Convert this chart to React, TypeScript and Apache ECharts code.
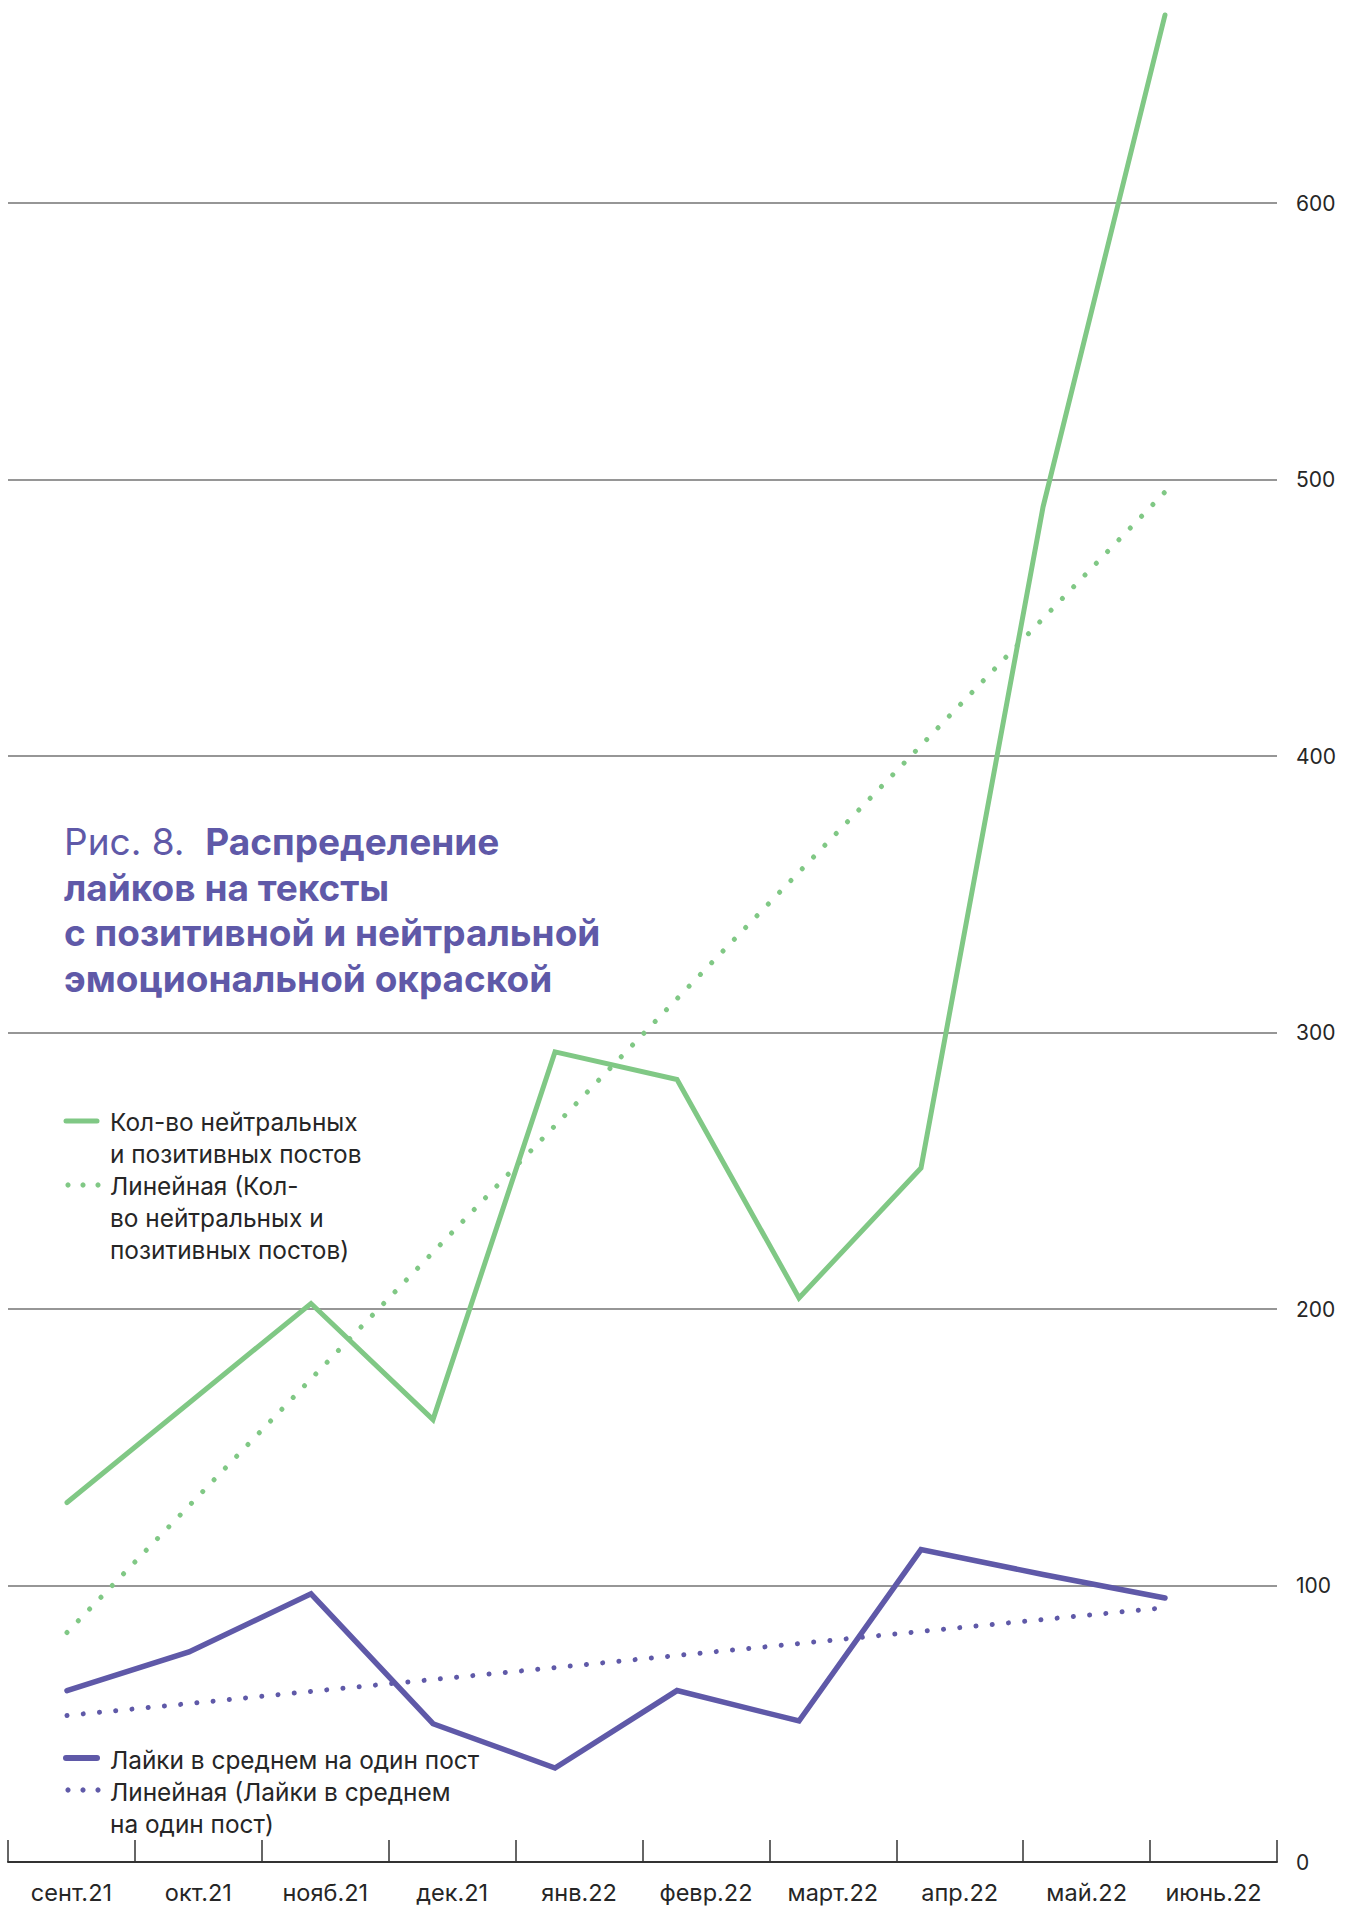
import React, { useEffect, useRef } from "react";
import * as echarts from "echarts";

const categories = ["сент.21", "окт.21", "нояб.21", "дек.21", "янв.22", "февр.22", "март.22", "апр.22", "май.22", "июнь.22"];
const postsCount = [130, 166, 202, 160, 293, 283, 204, 251, 490, 668];
const postsTrend = [83, 128.8, 174.7, 220.5, 266.3, 312.2, 358, 403.8, 449.7, 495.5];
const likesAvg = [62, 76, 97, 50, 34, 62, 51, 113, 104, 95.5];
const likesTrend = [53, 57.3, 61.7, 66, 70.3, 74.7, 79, 83.4, 87.7, 92];
const yMin = 0;
const yMax = 672;
const yInterval = 100;

const titleFirst = "Рис. 8.";
const titleBold = "Распределение";
const titleLines = ["лайков на тексты", "с позитивной и нейтральной", "эмоциональной окраской"];
const legendPosts = ["Кол-во нейтральных", "и позитивных постов"];
const legendPostsTrend = ["Линейная (Кол-", "во нейтральных и", "позитивных постов)"];
const legendLikes = ["Лайки в среднем на один пост"];
const legendLikesTrend = ["Линейная (Лайки в среднем", "на один пост)"];

const GREEN = "#80C885";
const PURPLE = "#5F59A8";
const TEXT = "#262626";
const FONT = "Inter, Roboto, sans-serif";

export default function App() {
  const ref = useRef<HTMLDivElement>(null);
  useEffect(() => {
    if (!ref.current) return;
    const chart = echarts.init(ref.current, null, { renderer: "svg" });
    const W = 1352;
    const zeroY = 1862;
    const pxPer100 = 276.5;
    const plotTop = zeroY - (yMax / 100) * pxPer100;
    const bottom = 1907 - zeroY;

    const graphic: any[] = [];
    const titleY = [841.5, 887, 932.5, 978];
    const titleFont = 37;
    graphic.push({
      type: "text",
      x: 64,
      y: titleY[0],
      style: {
        text: `{a|${titleFirst}  }{b|${titleBold}}`,
        textVerticalAlign: "middle",
        verticalAlign: "middle",
        rich: {
          a: { fontFamily: FONT, fontSize: titleFont, fontWeight: 400, fill: PURPLE, color: PURPLE },
          b: { fontFamily: FONT, fontSize: titleFont, fontWeight: 700, fill: PURPLE, color: PURPLE },
        },
      },
    });
    titleLines.forEach((t, i) => {
      graphic.push({
        type: "text",
        x: 64,
        y: titleY[i + 1],
        style: {
          text: t,
          fill: PURPLE,
          font: `700 ${titleFont}px ${FONT}`,
          textVerticalAlign: "middle",
          verticalAlign: "middle",
        },
      });
    });

    const addText = (lines: string[], ys: number[]) => {
      lines.forEach((t, i) => {
        graphic.push({
          type: "text",
          x: 110,
          y: ys[i],
          style: {
            text: t,
            fill: TEXT,
            font: `400 24.4px ${FONT}`,
            textVerticalAlign: "middle",
            verticalAlign: "middle",
          },
        });
      });
    };
    const addSolid = (y: number, color: string, w: number) => {
      graphic.push({
        type: "line",
        shape: { x1: 66, y1: y, x2: 97, y2: y },
        style: { stroke: color, lineWidth: w, lineCap: "round" },
      });
    };
    const addDots = (y: number, color: string) => {
      [68, 83, 98].forEach((x) => {
        graphic.push({ type: "circle", shape: { cx: x, cy: y, r: 2.6 }, style: { fill: color } });
      });
    };

    addSolid(1121, GREEN, 5);
    addText(legendPosts, [1122, 1154]);
    addDots(1185, GREEN);
    addText(legendPostsTrend, [1186, 1218, 1250]);

    addSolid(1758, PURPLE, 6);
    addText(legendLikes, [1760]);
    addDots(1790, PURPLE);
    addText(legendLikesTrend, [1792, 1824]);

    const dotted = [0.01, 16.3];

    chart.setOption({
      animation: false,
      grid: [
        { left: 8, right: W - 1277, top: plotTop, bottom },
        { left: 67, right: W - 1165, top: plotTop, bottom },
      ],
      xAxis: [
        {
          type: "category",
          gridIndex: 0,
          data: categories,
          boundaryGap: true,
          axisLine: { show: true, lineStyle: { color: "#333333", width: 2 } },
          axisTick: { show: true, inside: true, length: 22, lineStyle: { color: "#333333", width: 1.5 } },
          axisLabel: { color: TEXT, fontFamily: FONT, fontSize: 23.5, margin: 18 },
        },
        {
          type: "category",
          gridIndex: 1,
          data: categories,
          boundaryGap: false,
          show: false,
        },
      ],
      yAxis: [
        {
          type: "value",
          gridIndex: 0,
          position: "right",
          min: yMin,
          max: yMax,
          interval: yInterval,
          axisLine: { show: false },
          axisTick: { show: false },
          axisLabel: {
            color: TEXT,
            fontFamily: FONT,
            fontSize: 21,
            margin: 19,
            align: "left",
            showMaxLabel: false,
            formatter: (v: number) => (v % yInterval === 0 ? String(v) : ""),
          },
          splitLine: { show: true, showMaxLine: false, lineStyle: { color: "#737373", width: 1.5 } },
        },
        {
          type: "value",
          gridIndex: 1,
          min: yMin,
          max: yMax,
          interval: yInterval,
          show: false,
          splitLine: { show: false },
        },
      ],
      series: [
        {
          type: "line",
          name: "Лайки в среднем на один пост",
          xAxisIndex: 1,
          yAxisIndex: 1,
          data: likesAvg,
          symbol: "none",
          silent: true,
          clip: false,
          lineStyle: { color: PURPLE, width: 5.5, cap: "round", join: "miter" },
        },
        {
          type: "line",
          name: "Линейная (Лайки в среднем на один пост)",
          xAxisIndex: 1,
          yAxisIndex: 1,
          data: likesTrend,
          symbol: "none",
          silent: true,
          clip: false,
          lineStyle: { color: PURPLE, width: 5, type: dotted, cap: "round" },
        },
        {
          type: "line",
          name: "Кол-во нейтральных и позитивных постов",
          xAxisIndex: 1,
          yAxisIndex: 1,
          data: postsCount,
          symbol: "none",
          silent: true,
          clip: false,
          lineStyle: { color: GREEN, width: 5, cap: "round", join: "miter" },
        },
        {
          type: "line",
          name: "Линейная (Кол-во нейтральных и позитивных постов)",
          xAxisIndex: 1,
          yAxisIndex: 1,
          data: postsTrend,
          symbol: "none",
          silent: true,
          clip: false,
          lineStyle: { color: GREEN, width: 5, type: dotted, cap: "round" },
        },
      ],
      graphic,
    });
    return () => chart.dispose();
  }, []);
  return (
    <div
      ref={ref}
      style={{ position: "absolute", left: 0, top: 0, width: 1352, height: 1907, background: "#ffffff" }}
    />
  );
}
